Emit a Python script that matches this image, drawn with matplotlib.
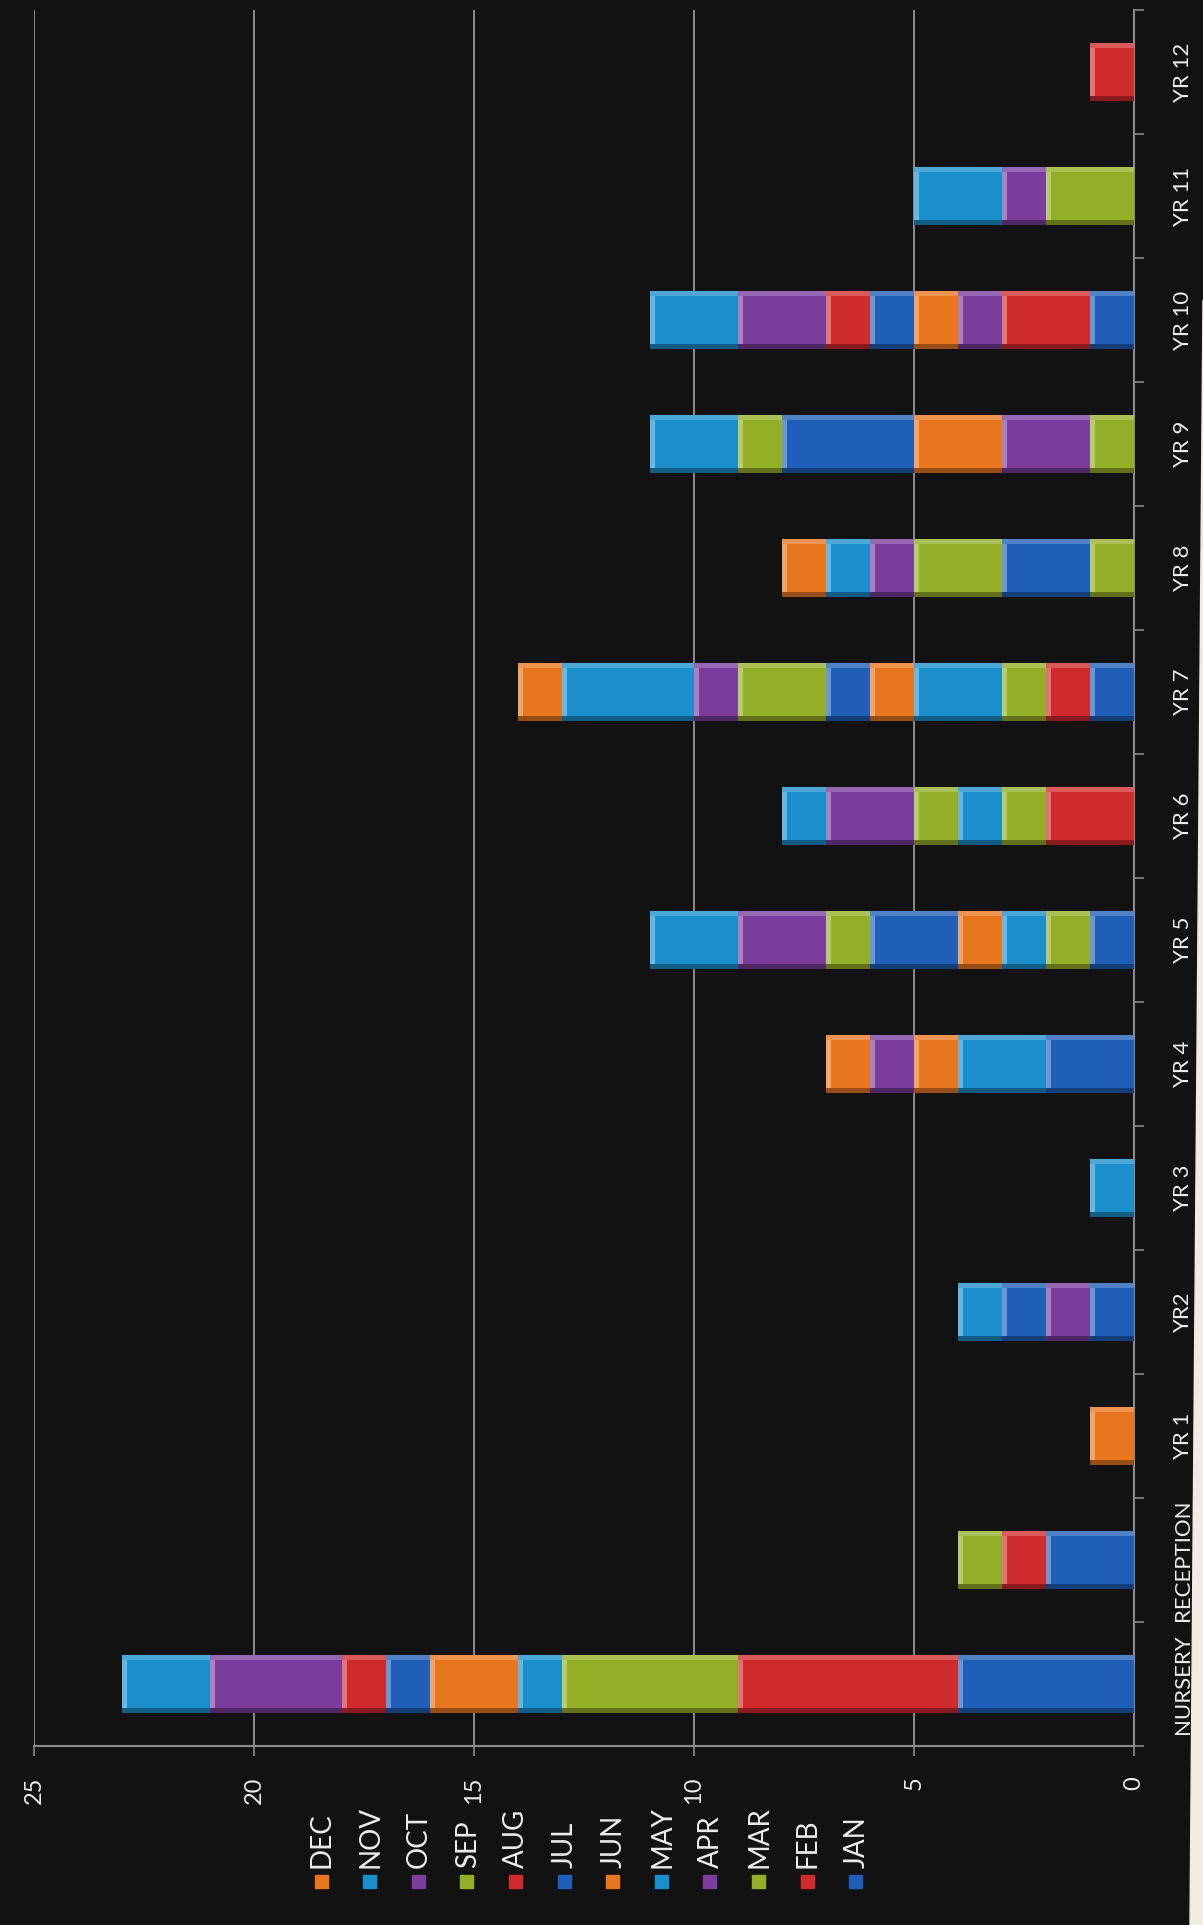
import matplotlib
matplotlib.use("Agg")
import matplotlib.pyplot as plt
import numpy as np
from matplotlib.patches import Rectangle, Polygon
from matplotlib.colors import to_rgb

# ---------------- data ----------------
categories = ["NURSERY", "RECEPTION", "YR 1", "YR2", "YR 3", "YR 4", "YR 5",
              "YR 6", "YR 7", "YR 8", "YR 9", "YR 10", "YR 11", "YR 12"]
months = ["JAN", "FEB", "MAR", "APR", "MAY", "JUN",
          "JUL", "AUG", "SEP", "OCT", "NOV", "DEC"]
jan = [4, 2, 0, 1, 0, 2, 1, 0, 1, 0, 0, 1, 0, 0]
feb = [5, 1, 0, 0, 0, 0, 0, 2, 1, 0, 0, 2, 0, 1]
mar = [4, 1, 0, 0, 0, 0, 1, 1, 1, 1, 1, 0, 2, 0]
apr = [0, 0, 0, 1, 0, 0, 0, 0, 0, 0, 2, 1, 1, 0]
may = [1, 0, 0, 0, 1, 2, 1, 1, 2, 0, 0, 0, 2, 0]
jun = [2, 0, 1, 0, 0, 1, 1, 0, 1, 0, 2, 1, 0, 0]
jul = [1, 0, 0, 1, 0, 0, 2, 0, 1, 2, 3, 1, 0, 0]
aug = [1, 0, 0, 0, 0, 0, 0, 0, 0, 0, 0, 1, 0, 0]
sep = [0, 0, 0, 0, 0, 0, 1, 1, 2, 2, 1, 0, 0, 0]
oct_ = [3, 0, 0, 0, 0, 1, 2, 2, 1, 1, 0, 2, 0, 0]
nov = [2, 0, 0, 1, 0, 0, 2, 1, 3, 1, 2, 2, 0, 0]
dec = [0, 0, 0, 0, 0, 1, 0, 0, 1, 1, 0, 0, 0, 0]
value_ticks = [0, 5, 10, 15, 20, 25]

series = [jan, feb, mar, apr, may, jun, jul, aug, sep, oct_, nov, dec]

# ---------------- style ----------------
BG = "#121212"
GRID = "#a0a0a0"
AXIS = "#8a8a8a"
TXT = "#ececec"
base_cols = ["#1f5fb8", "#cf2a2c", "#93ae27", "#7a3d9c", "#1b8fcc", "#e8761f"]
month_colors = base_cols * 2


def blend(c, other, t):
    a = np.array(to_rgb(c))
    b = np.array(to_rgb(other))
    return tuple(a * (1 - t) + b * t)


plt.rcParams["font.family"] = ["Lato", "DejaVu Sans"]

W, H = 1203, 1925
fig = plt.figure(figsize=(W / 100, H / 100), dpi=100)
fig.patch.set_facecolor(BG)

x_left, x_right = 34, 1134
y_top, y_bot = 10, 1746
ax = fig.add_axes([x_left / W, 1 - y_bot / H, (x_right - x_left) / W, (y_bot - y_top) / H])
ax.set_facecolor(BG)

y = np.arange(len(categories))
cum = np.zeros(len(categories))
bh = 0.47
t = 0.08
for i, vals in enumerate(series):
    vals = np.array(vals, float)
    col = month_colors[i]
    m = vals > 0
    ax.barh(y[m], vals[m], left=cum[m], height=bh, color=col, edgecolor="none", zorder=3)
    # bevel shading
    ax.barh(y[m] + bh / 2 - t * bh / 2, vals[m], left=cum[m], height=t * bh,
            color=blend(col, "white", 0.22), edgecolor="none", zorder=4)
    ax.barh(y[m] - bh / 2 + t * bh / 2, vals[m], left=cum[m], height=t * bh,
            color=blend(col, "black", 0.35), edgecolor="none", zorder=4)
    ax.barh(y[m], np.full(m.sum(), 0.12), left=(cum + vals)[m] - 0.12, height=bh * 0.84,
            color=blend(col, "white", 0.35), edgecolor="none", zorder=5)
    cum = cum + vals

ax.set_xlim(value_ticks[-1], value_ticks[0])
ax.set_ylim(-0.5, len(categories) - 0.5)

ax.set_xticks(value_ticks)
ax.set_xticklabels([str(v) for v in value_ticks], rotation=90)
ax.xaxis.grid(True, color=GRID, lw=1.2, zorder=1)
ax.set_axisbelow(True)

ax.yaxis.tick_right()
ax.set_yticks(y)
ax.set_yticklabels(categories, rotation=90, va="center")
ax.set_yticks(np.arange(-0.5, len(categories), 1), minor=True)

ax.tick_params(axis="x", colors=AXIS, length=7, width=1.2, labelcolor=TXT,
               labelsize=17, pad=15)
ax.tick_params(axis="y", which="major", length=0, labelcolor=TXT, labelsize=16, pad=28)
ax.tick_params(axis="y", which="minor", length=7, width=1.2, color=AXIS,
               right=True, left=False)

for s in ["left", "top"]:
    ax.spines[s].set_visible(False)
for s in ["right", "bottom"]:
    ax.spines[s].set_color(AXIS)
    ax.spines[s].set_linewidth(1.5)

# ---------------- legend (rotated, manual) ----------------
leg_order = list(range(len(months)))[::-1]  # DEC ... JAN
x0, dx = 321, 48.6
for k, idx in enumerate(leg_order):
    xc = x0 + k * dx
    sq = 13
    fig.add_artist(Rectangle(((xc - sq / 2) / W, 1 - (1881 + sq / 2) / H), sq / W, sq / H,
                             transform=fig.transFigure, color=month_colors[idx]))
    fig.text((xc + 1) / W, 1 - 1868 / H, months[idx], rotation=90, ha="center", va="bottom",
             color=TXT, fontsize=20)

# scanned paper edge on the right
fig.add_artist(Polygon([(1.0, 1 - 300 / H), (1190 / W, 0.0), (1.0, 0.0)],
                       closed=True, transform=fig.transFigure, color="#efece2"))

fig.savefig("out.png", dpi=100, facecolor=BG)
